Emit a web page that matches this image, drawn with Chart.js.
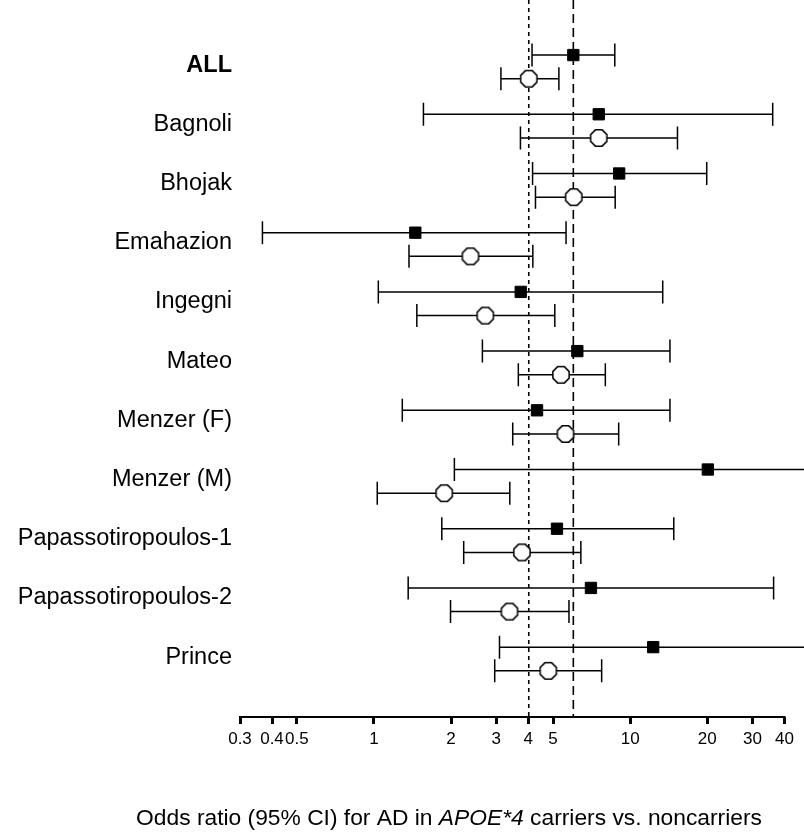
<!DOCTYPE html>
<html>
<head>
<meta charset="utf-8">
<script src="https://cdn.jsdelivr.net/npm/chart.js@4.4.1/dist/chart.umd.min.js"></script>
<style>
  html, body { margin: 0; padding: 0; background: #fff; }
  #wrap { width: 804px; height: 832px; }
</style>
</head>
<body>
<div id="wrap"><canvas id="forest"></canvas></div>
<script>
// studies, top to bottom
const studies = ['ALL', 'Bagnoli', 'Bhojak', 'Emahazion', 'Ingegni', 'Mateo',
    'Menzer (F)', 'Menzer (M)', 'Papassotiropoulos-1', 'Papassotiropoulos-2', 'Prince'];

// filled squares: odds ratio with 95% CI
const sqOR = [6.0, 7.54, 9.06, 1.45, 3.74, 6.22, 4.33, 20.1, 5.18, 7.03, 12.3];
const sqLo = [4.14, 1.56, 4.16, 0.367, 1.04, 2.65, 1.29, 2.06, 1.84, 1.36, 3.09];
const sqHi = [8.71, 36.0, 19.9, 5.62, 13.4, 14.3, 14.3, 60, 14.8, 36.3, 60];

// open octagons: odds ratio with 95% CI
const ciOR = [4.02, 7.54, 6.02, 2.38, 2.72, 5.37, 5.59, 1.88, 3.78, 3.38, 4.79];
const ciLo = [3.13, 3.73, 4.27, 1.37, 1.47, 3.66, 3.48, 1.03, 2.24, 1.99, 2.96];
const ciHi = [5.27, 15.3, 8.74, 4.17, 5.08, 8.0, 9.02, 3.39, 6.42, 5.77, 7.74];

const xTicks = [0.3, 0.4, 0.5, 1, 2, 3, 4, 5, 10, 20, 30, 40];

const FONT = "'Liberation Sans', Arial, Helvetica, sans-serif";

// octagon marker
function octagon(r) {
    const c = document.createElement('canvas');
    const s = Math.ceil(r * 2 + 4);
    c.width = s; c.height = s;
    const g = c.getContext('2d');
    g.beginPath();
    for (let k = 0; k < 8; k++) {
        const a = Math.PI / 8 + k * Math.PI / 4;
        const px = s / 2 + r * Math.cos(a), py = s / 2 + r * Math.sin(a);
        k === 0 ? g.moveTo(px, py) : g.lineTo(px, py);
    }
    g.closePath();
    g.fillStyle = '#fff';
    g.fill();
    g.lineWidth = 1.5;
    g.strokeStyle = '#000';
    g.stroke();
    return c;
}

const toPoints = (or, lo, hi, shift) => or.map((v, i) => ({ x: v, y: i + shift, lo: lo[i], hi: hi[i] }));

const errorBars = {
    id: 'errorBars',
    beforeDatasetsDraw(chart) {
        const { ctx, chartArea: a, scales: { x, y } } = chart;
        ctx.save();
        ctx.beginPath();
        ctx.rect(a.left, a.top, a.right - a.left, a.bottom - a.top);
        ctx.clip();

        // reference lines at the pooled estimates
        const refs = [[ciOR[0], [4, 4]], [sqOR[0], [9, 5]]];
        ctx.strokeStyle = '#000';
        ctx.lineWidth = 1.6;
        refs.forEach(([v, dash]) => {
            const px = x.getPixelForValue(v);
            ctx.setLineDash(dash);
            ctx.beginPath();
            ctx.moveTo(px, a.top);
            ctx.lineTo(px, a.bottom);
            ctx.stroke();
        });
        ctx.setLineDash([]);

        ctx.lineWidth = 1.5;
        chart.data.datasets.forEach(ds => {
            ds.data.forEach(p => {
                const py = y.getPixelForValue(p.y);
                const x0 = x.getPixelForValue(p.lo), x1 = x.getPixelForValue(p.hi);
                ctx.beginPath();
                ctx.moveTo(x0, py); ctx.lineTo(x1, py);
                ctx.moveTo(x0, py - 11.5); ctx.lineTo(x0, py + 11.5);
                ctx.moveTo(x1, py - 11.5); ctx.lineTo(x1, py + 11.5);
                ctx.stroke();
            });
        });
        ctx.restore();
    },
    afterDraw(chart) {
        const { ctx, chartArea: a, scales: { x } } = chart;
        ctx.save();
        // axis line from first to last tick
        ctx.strokeStyle = '#000';
        ctx.lineWidth = 2;
        ctx.beginPath();
        ctx.moveTo(x.getPixelForValue(xTicks[0]) - 1, a.bottom);
        ctx.lineTo(x.getPixelForValue(xTicks[xTicks.length - 1]) + 1, a.bottom);
        ctx.stroke();

        // axis title with italic gene name
        const parts = [
            ['Odds ratio (95% CI) for AD in ', 'normal'],
            ['APOE*4', 'italic'],
            [' carriers vs. noncarriers', 'normal']
        ];
        const size = 22.8;
        let total = 0;
        parts.forEach(([t, st]) => {
            ctx.font = `${st} ${size}px ${FONT}`;
            total += ctx.measureText(t).width;
        });
        let cx = 449 - total / 2;
        ctx.fillStyle = '#000';
        ctx.textBaseline = 'middle';
        parts.forEach(([t, st]) => {
            ctx.font = `${st} ${size}px ${FONT}`;
            ctx.fillText(t, cx, 819);
            cx += ctx.measureText(t).width;
        });
        ctx.restore();
    }
};

new Chart(document.getElementById('forest'), {
    type: 'scatter',
    data: {
        datasets: [
            {
                label: 'squares',
                data: toPoints(sqOR, sqLo, sqHi, -0.17),
                pointStyle: 'rect',
                pointRadius: 8,
                pointBackgroundColor: '#000',
                pointBorderColor: '#000',
                pointBorderWidth: 1
            },
            {
                label: 'octagons',
                data: toPoints(ciOR, ciLo, ciHi, 0.23),
                pointStyle: octagon(8.8),
                pointRadius: 9
            }
        ]
    },
    options: {
        responsive: true,
        maintainAspectRatio: false,
        animation: false,
        layout: { padding: 0, autoPadding: false },
        plugins: {
            legend: { display: false },
            tooltip: { enabled: false }
        },
        scales: {
            x: {
                type: 'logarithmic',
                min: 0.3,
                max: 47.7,
                afterBuildTicks: s => { s.ticks = xTicks.map(v => ({ value: v })); },
                afterFit: s => { s.height = 115; s.paddingLeft = 0; s.paddingRight = 0; },
                border: { display: false },
                grid: {
                    drawOnChartArea: false,
                    drawTicks: true,
                    tickLength: 7,
                    tickWidth: 3,
                    tickColor: '#000'
                },
                ticks: {
                    autoSkip: false,
                    maxRotation: 0,
                    padding: 5,
                    color: '#000',
                    font: { family: FONT, size: 17 },
                    callback: v => String(v)
                }
            },
            y: {
                type: 'linear',
                reverse: true,
                min: -1.1,
                max: 11.01,
                afterBuildTicks: s => { s.ticks = studies.map((_, i) => ({ value: i })); },
                afterFit: s => { s.width = 240; s.paddingTop = 0; s.paddingBottom = 0; },
                border: { display: false },
                grid: { display: false },
                ticks: {
                    padding: 0,
                    color: '#000',
                    font: c => ({ family: FONT, size: 23.5, weight: c.index === 0 ? 'bold' : 'normal' }),
                    callback: v => studies[v]
                }
            }
        }
    },
    plugins: [errorBars]
});
</script>
</body>
</html>
